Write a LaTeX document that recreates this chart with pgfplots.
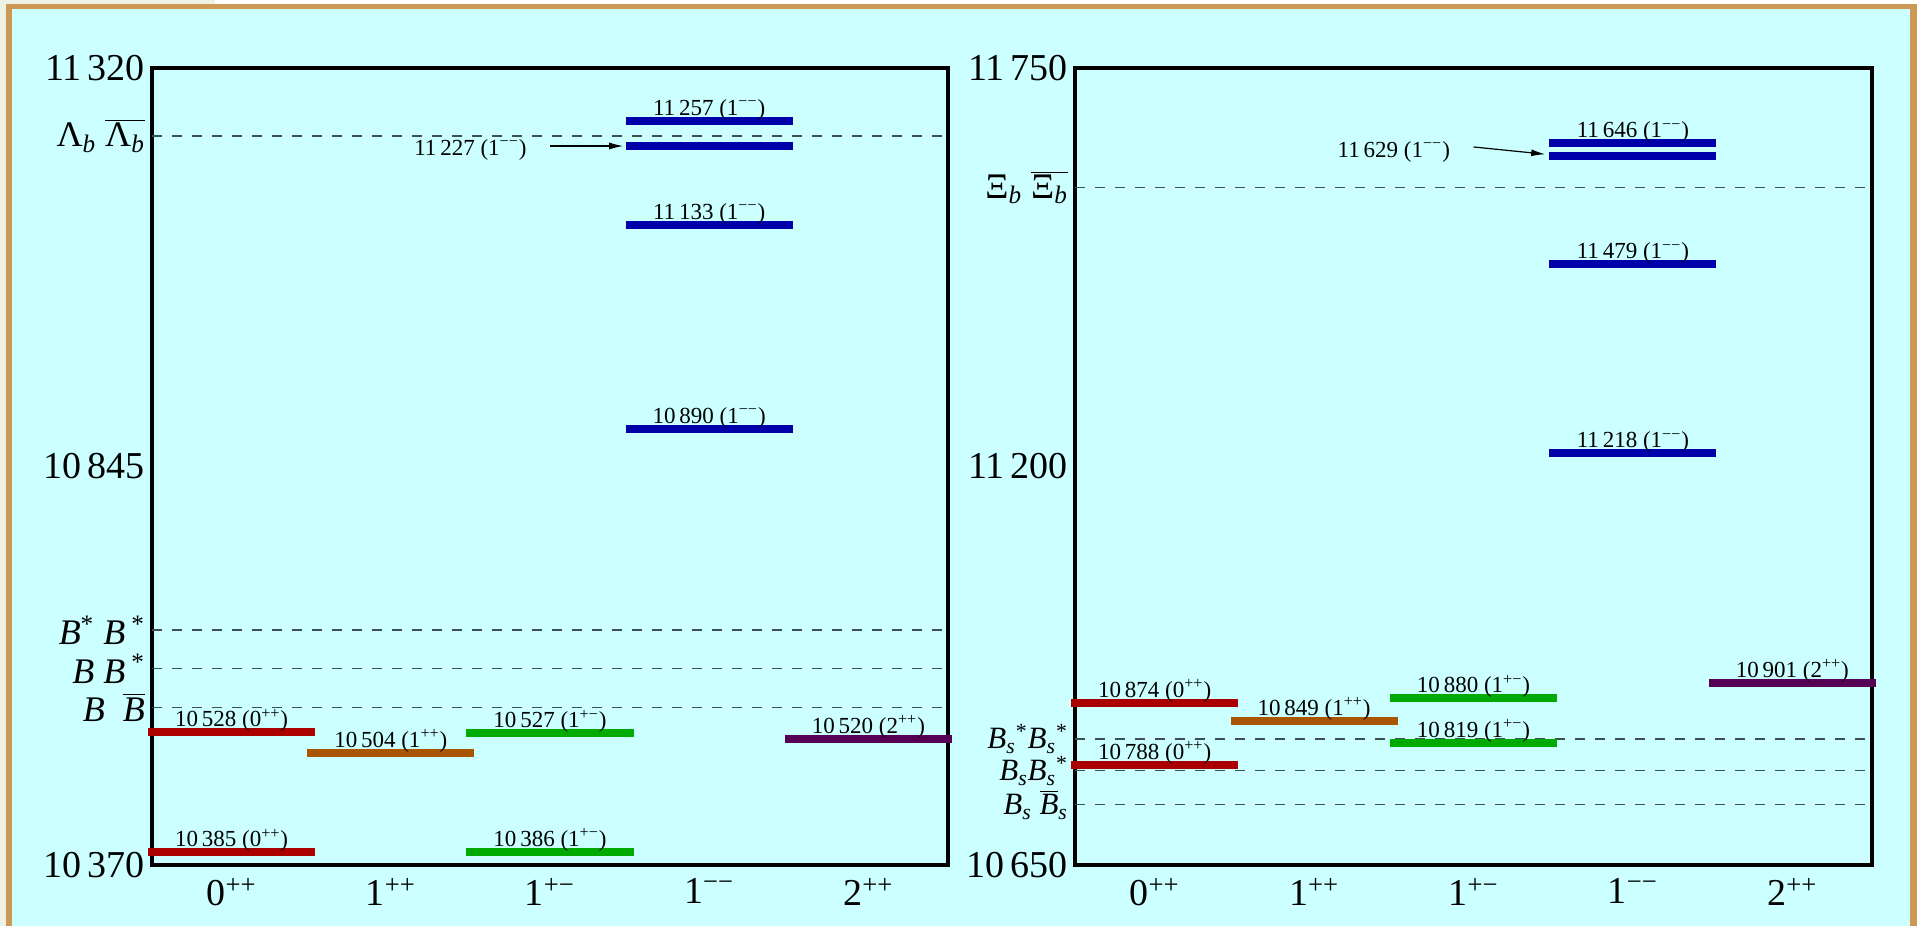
\documentclass[border=0pt]{standalone}
\usepackage{pgfplots}
\pgfplotsset{compat=1.18}
\usetikzlibrary{arrows.meta}
\usepackage{fontspec}
\setmainfont{Liberation Serif}
\definecolor{framec}{RGB}{204,153,85}
\definecolor{bgc}{RGB}{204,255,255}
\definecolor{beige}{RGB}{238,242,229}
\definecolor{dred}{RGB}{170,0,0}
\definecolor{dorange}{RGB}{170,85,0}
\definecolor{dgreen}{RGB}{0,170,0}
\definecolor{dblue}{RGB}{0,0,170}
\definecolor{dpurple}{RGB}{85,0,85}
\definecolor{dashc}{RGB}{60,80,80}
\newcommand{\sub}[1]{\textsubscript{\itshape #1}}
\pgfplotsset{
  levaxis/.style={
    scale only axis, clip=false,
    xmin=-0.5, xmax=4.5,
    xtick={0,1,2,3,4},
    xticklabels={0\textsuperscript{++},1\textsuperscript{++},1\textsuperscript{+−},1\textsuperscript{−−},2\textsuperscript{++}},
    axis line style={line width=2pt},
    major tick length=0pt,
    scaled y ticks=false,
    xticklabel style={font=\fontsize{19}{21}\selectfont, yshift=-3pt},
    yticklabel style={font=\fontsize{19}{21}\selectfont, /pgf/number format/fixed, /pgf/number format/1000 sep={\,}},
    /pgf/number format/1000 sep={\,},
    /pgf/number format/assume math mode=true,
    extra y tick style={grid=major, yticklabel style={font=\fontsize{18}{20}\selectfont}},
    major grid style={draw=dashc, line width=0.6pt, dash pattern=on 4.75pt off 5.25pt},
  },
  levbar/.style={only marks, mark=-, mark size=41.75pt, color=#1, mark options={line width=4pt, draw=#1}},
  levlab/.style 2 args={levbar=#1, point meta=y,
    nodes near coords={\pgfmathprintnumber{\pgfplotspointmeta} (#2)},
    every node near coord/.append style={anchor=base, yshift=2.75pt, text=black, font=\fontsize{11.5}{12}\selectfont}},
}
\begin{document}
\begin{tikzpicture}
\fill[white] (0,0) rectangle (959pt,463pt);
\fill[beige] (0,0) rectangle (3pt,463pt);
\fill[beige] (0,461pt) rectangle (107.5pt,463pt);
\fill[framec] (3pt,0) rectangle (958.5pt,461pt);
\fill[bgc] (6pt,0) rectangle (955pt,458.5pt);

\begin{axis}[levaxis, at={(76pt,30.5pt)}, anchor=south west, width=398pt, height=398.5pt,
  ymin=10370, ymax=11320, ytick={10370,10845,11320},
  extra y ticks={10558,10604,10650,11239},
  extra y tick labels={{\itshape B}\ \ $\overline{\hbox{\itshape B}}$, {\itshape B} {\itshape B}\,\textsuperscript{*}, {\itshape B}\textsuperscript{*} {\itshape B}\,\textsuperscript{*}, Λ\sub{b} $\overline{\hbox{Λ\sub{b}}}$}]
\addplot[levlab={dred}{0\textsuperscript{++}}] coordinates {(0,10385) (0,10528)};
\addplot[levlab={dorange}{1\textsuperscript{++}}] coordinates {(1,10504)};
\addplot[levlab={dgreen}{1\textsuperscript{+−}}] coordinates {(2,10386) (2,10527)};
\addplot[levlab={dblue}{1\textsuperscript{−−}}] coordinates {(3,10890) (3,11133) (3,11257)};
\addplot[levbar=dblue] coordinates {(3,11227)};
\addplot[levlab={dpurple}{2\textsuperscript{++}}] coordinates {(4,10520)};
\node[anchor=base, font=\fontsize{11.5}{12}\selectfont] at (axis cs:1.5,11216) {11\,227 (1\textsuperscript{−−})};
\draw[line width=0.6pt, -{Latex[length=7pt,width=3.5pt]}] (axis cs:2.0,11227) -- (axis cs:2.46,11227);
\end{axis}

\begin{axis}[levaxis, at={(537.5pt,30.5pt)}, anchor=south west, width=398.5pt, height=398.5pt,
  ymin=10650, ymax=11750, ytick={10650,11200,11750},
  extra y ticks={10733,10780,10824,11585},
  extra y tick style={grid=major, yticklabel style={font=\fontsize{15.5}{17}\selectfont, inner ysep=0pt}},
  extra y tick labels={{\itshape B}\sub{s} $\overline{\hbox{\itshape B}}$\sub{s}, {\itshape B}\sub{s}{\itshape B}\sub{s}\textsuperscript{*}, {\itshape B}\sub{s}\textsuperscript{*}{\itshape B}\sub{s}\textsuperscript{*}, {\fontsize{18}{20}\selectfont Ξ\sub{b} $\overline{\hbox{Ξ\sub{b}}}$}}]
\addplot[levlab={dred}{0\textsuperscript{++}}] coordinates {(0,10788) (0,10874)};
\addplot[levlab={dorange}{1\textsuperscript{++}}] coordinates {(1,10849)};
\addplot[levlab={dgreen}{1\textsuperscript{+−}}] coordinates {(2,10819) (2,10880)};
\addplot[levlab={dblue}{1\textsuperscript{−−}}] coordinates {(3,11218) (3,11479) (3,11646)};
\addplot[levbar=dblue] coordinates {(3,11629)};
\addplot[levlab={dpurple}{2\textsuperscript{++}}] coordinates {(4,10901)};
\node[anchor=base, font=\fontsize{11.5}{12}\selectfont] at (axis cs:1.5,11627) {11\,629 (1\textsuperscript{−−})};
\draw[line width=0.6pt, -{Latex[length=7pt,width=3.5pt]}] (axis cs:2.0,11641) -- (axis cs:2.45,11631);
\end{axis}
\pgfresetboundingbox
\useasboundingbox (0,0) rectangle (959pt,463pt);
\end{tikzpicture}
\end{document}
